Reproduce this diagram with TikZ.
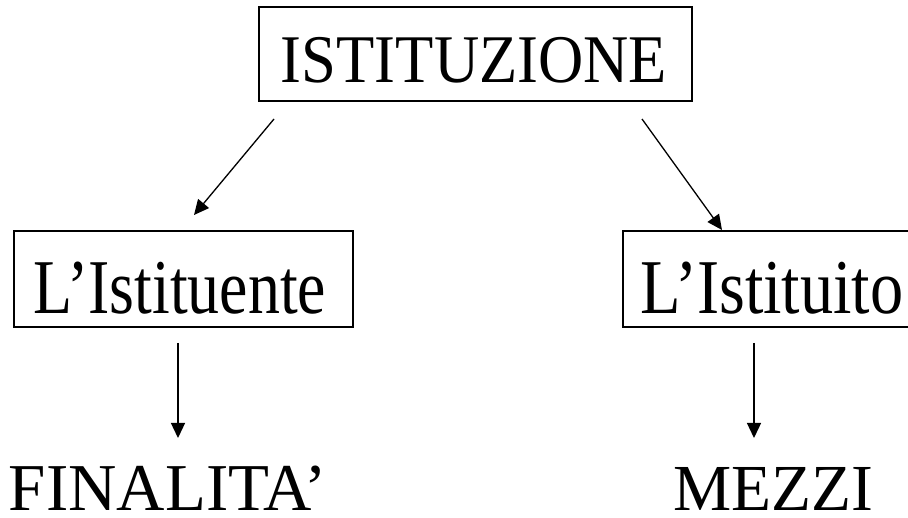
\documentclass[tikz,border=0pt]{standalone}
\usepackage{fontspec}
\setmainfont{Liberation Serif}
\usetikzlibrary{arrows.meta}
\newcommand{\nodepth}[1]{\raisebox{0pt}[\height][0pt]{#1}}
\begin{document}
\begin{tikzpicture}[x=1pt,y=-1pt,
  boxframe/.style={draw=black,line width=1.4pt},
  lbl/.style={inner sep=0pt,anchor=base,font=\fontsize{62}{70}\selectfont},
  arr/.style={line width=1.3pt,-{Triangle[length=15pt,width=14pt]}}]
\useasboundingbox (0,0) rectangle (908,518);
% boxes
\draw[boxframe] (259,7) rectangle (692,101);
\draw[boxframe] (14,231) rectangle (353,327);
\draw[boxframe] (623,231) rectangle (912,327);
% texts
\node[lbl] (ist) at (474,83) {\scalebox{1.01}[1.1]{ISTITUZIONE}};
\node[lbl] (ente) at (180,314) {\scalebox{1.03}[1.25]{L’Istituente}};
\node[lbl] (ito) at (772,314) {\scalebox{1.07}[1.25]{L’Istituito}};
\node[lbl] (fin) at (168,510) {\nodepth{\scalebox{1.08}[1.08]{FINALITA’}}};
\node[lbl] (mez) at (773,510) {\nodepth{\scalebox{1.055}[1.06]{MEZZI}}};
% arrow end points
\coordinate (a1s) at (274,119);
\coordinate (a1e) at (194,215);
\coordinate (a2s) at (642,119);
\coordinate (a2e) at (722,230);
\coordinate (a3s) at (178,343);
\coordinate (a3e) at (178,438);
\coordinate (a4s) at (754,343);
\coordinate (a4e) at (754,438);
\draw[arr] (a1s) -- (a1e);
\draw[arr] (a2s) -- (a2e);
\draw[arr] (a3s) -- (a3e);
\draw[arr] (a4s) -- (a4e);
\end{tikzpicture}
\end{document}
